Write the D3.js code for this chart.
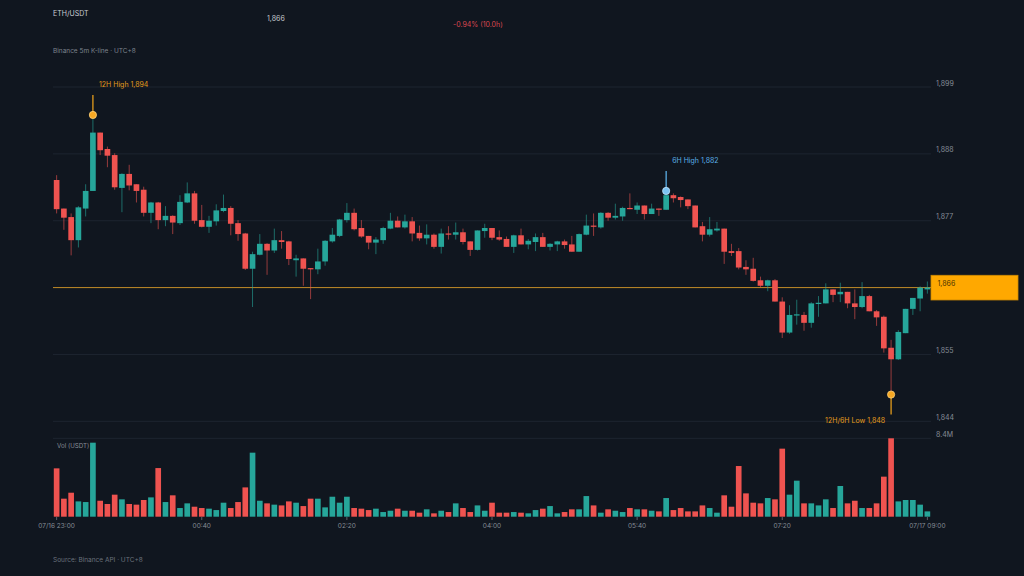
<!DOCTYPE html>
<html>
<head>
<meta charset="utf-8">
<script src="https://cdn.jsdelivr.net/npm/d3@7"></script>
<style>
  html, body { margin: 0; padding: 0; background: #10161f; }
  svg { display: block; font-family: Inter, "Noto Sans", sans-serif; }
</style>
</head>
<body>
<svg id="chart" width="1024" height="576"></svg>
<script>
// 5m candles, 07/16 23:00 -> 07/17 09:00 (121 bars)
const openPrices = [
  1883.7,1879.0,1877.6,1873.8,1879.0,1881.9,1891.5,1888.8,1887.8,1882.4,
  1884.7,1883.0,1882.1,1878.3,1880.0,1877.1,1877.8,1876.6,1880.0,1881.5,
  1877.1,1876.0,1876.9,1878.6,1879.1,1876.6,1874.9,1869.1,1871.4,1873.2,
  1872.1,1873.8,1873.6,1870.5,1870.8,1869.2,1869.0,1870.3,1873.6,1874.5,
  1877.1,1878.3,1875.8,1874.5,1873.4,1873.8,1875.7,1877.0,1875.9,1876.9,
  1875.0,1874.1,1874.7,1872.7,1874.9,1874.7,1875.1,1873.6,1872.2,1875.3,
  1875.8,1874.3,1874.0,1872.7,1874.6,1873.1,1873.5,1874.3,1872.7,1873.1,
  1873.6,1873.1,1871.9,1874.7,1876.2,1875.9,1878.3,1877.5,1877.7,1879.1,
  1878.8,1879.5,1878.1,1879.0,1878.8,1881.2,1880.9,1880.5,1879.5,1876.1,
  1874.7,1875.4,1875.7,1872.0,1872.0,1869.4,1869.1,1867.2,1866.3,1867.2,
  1863.7,1858.6,1861.4,1861.5,1860.2,1863.3,1863.4,1865.7,1864.9,1865.3,
  1863.4,1862.8,1864.6,1862.1,1861.2,1856.1,1854.2,1858.5,1862.5,1864.2,
  1865.7
]
const highPrices = [
  1884.5,1879.0,1878.2,1879.4,1883.0,1894.4,1891.5,1889.2,1888.1,1884.8,
  1886.2,1883.0,1882.6,1880.1,1880.1,1879.4,1877.9,1881.2,1883.3,1881.9,
  1879.6,1877.8,1879.7,1881.3,1879.4,1877.1,1875.0,1871.9,1874.8,1873.3,
  1875.7,1875.3,1873.7,1871.4,1870.8,1869.2,1872.4,1873.8,1875.8,1877.3,
  1879.9,1879.0,1877.1,1874.5,1874.3,1876.0,1878.3,1877.7,1878.0,1877.6,
  1876.2,1876.4,1874.9,1875.7,1876.1,1876.7,1875.7,1873.6,1875.4,1876.5,
  1875.8,1875.4,1874.4,1874.7,1875.7,1874.0,1874.9,1875.0,1873.3,1873.7,
  1873.9,1874.5,1874.9,1878.0,1878.2,1878.4,1878.4,1879.8,1879.3,1881.5,
  1880.0,1879.5,1879.8,1879.0,1881.9,1881.5,1881.0,1880.5,1879.5,1876.8,
  1877.6,1876.8,1875.7,1873.2,1872.5,1870.5,1870.9,1867.8,1867.3,1867.4,
  1864.4,1863.1,1864.0,1862.0,1863.6,1864.6,1866.7,1865.7,1866.8,1865.3,
  1865.7,1866.9,1864.8,1862.3,1861.4,1857.4,1859.0,1862.5,1864.3,1866.2,
  1867.0
]
const lowPrices = [
  1878.2,1875.5,1871.3,1872.6,1877.7,1881.9,1887.8,1885.8,1882.1,1878.4,
  1882.0,1880.0,1877.7,1876.6,1875.6,1876.1,1874.8,1876.3,1879.9,1876.5,
  1875.9,1875.0,1876.2,1878.4,1874.6,1873.7,1868.9,1862.8,1871.3,1868.1,
  1871.7,1872.4,1869.7,1867.8,1866.3,1864.1,1868.2,1869.6,1873.4,1874.3,
  1876.7,1875.4,1874.2,1872.3,1871.5,1873.2,1875.6,1875.9,1875.7,1873.6,
  1873.7,1873.1,1872.4,1871.6,1873.9,1873.9,1873.1,1871.2,1872.1,1874.2,
  1873.8,1873.7,1872.7,1871.7,1873.1,1872.3,1872.0,1872.7,1872.1,1872.0,
  1872.4,1871.9,1871.9,1874.6,1874.5,1875.7,1877.0,1877.2,1877.0,1878.9,
  1878.1,1877.2,1878.1,1877.8,1878.8,1880.0,1879.2,1878.9,1875.9,1873.6,
  1874.4,1875.2,1869.9,1871.2,1869.0,1868.1,1867.0,1866.0,1865.4,1863.7,
  1857.7,1858.4,1859.9,1858.9,1859.4,1861.2,1863.4,1863.6,1863.6,1862.6,
  1860.8,1862.6,1862.1,1859.7,1855.3,1848.4,1854.1,1858.5,1861.5,1862.1,
  1865.0
]
const closePrices = [
  1878.9,1877.5,1873.8,1879.2,1881.9,1891.5,1888.6,1887.7,1882.5,1884.7,
  1882.8,1881.9,1878.3,1880.0,1877.1,1877.8,1876.7,1880.1,1881.5,1877.0,
  1876.0,1877.0,1878.7,1879.1,1876.5,1874.8,1869.1,1871.5,1873.2,1872.1,
  1873.8,1873.5,1870.7,1870.8,1869.1,1869.0,1870.3,1873.7,1874.7,1877.2,
  1878.3,1875.6,1874.4,1873.4,1873.9,1875.8,1877.0,1875.9,1876.9,1874.9,
  1874.1,1874.7,1872.7,1874.9,1874.7,1875.1,1873.5,1872.2,1875.4,1875.8,
  1874.2,1873.9,1872.7,1874.6,1873.1,1873.7,1874.3,1872.7,1873.2,1873.6,
  1873.0,1871.9,1874.8,1876.2,1876.0,1878.3,1877.5,1877.8,1879.1,1878.9,
  1879.5,1878.1,1879.0,1878.8,1881.2,1880.7,1880.4,1879.4,1875.9,1874.7,
  1875.6,1875.7,1871.9,1871.7,1869.3,1869.0,1867.1,1866.3,1867.2,1863.7,
  1858.6,1861.5,1861.6,1860.2,1863.4,1863.5,1865.7,1864.8,1865.3,1863.4,
  1862.8,1864.6,1862.1,1861.1,1856.0,1854.2,1858.7,1862.5,1864.3,1866.0,
  1866.0
]
// volume in millions USDT
const volumes = [
  5.18,1.93,2.57,1.64,1.57,7.93,1.71,1.36,2.36,1.86,
  1.36,1.29,1.79,2.07,5.21,1.57,2.29,0.93,1.43,1.07,
  0.93,0.86,0.71,1.50,0.93,1.57,3.14,6.86,1.71,1.43,
  1.29,1.21,1.64,1.50,1.14,1.93,1.93,1.00,2.14,1.50,
  2.14,0.93,0.86,0.71,0.86,0.50,0.64,0.86,0.64,0.64,
  0.43,0.79,0.36,0.64,0.50,1.43,0.93,0.50,1.21,0.64,
  1.50,0.43,0.43,0.50,0.43,0.36,0.71,0.86,1.14,0.36,
  0.50,0.79,0.79,2.21,1.21,0.43,0.79,0.64,0.50,0.93,
  0.79,0.79,0.64,0.57,2.00,0.71,0.93,0.57,0.57,1.21,
  0.93,0.43,2.29,1.07,5.43,2.50,1.50,1.43,2.00,1.86,
  7.29,2.36,3.86,1.43,1.43,1.21,1.86,0.93,3.29,1.43,
  1.71,0.93,0.93,1.43,4.29,8.40,1.64,1.79,1.79,1.29,
  0.57
]
const priceTicks = [1844, 1855, 1866, 1877, 1888, 1899]
const timeTickIndex = [0, 20, 40, 60, 80, 100, 120]
const timeTickLabels = ['07/16 23:00', '00:40', '02:20', '04:00', '05:40', '07:20', '07/17 09:00']
const volMax = 8.4

const UP = '#26a69a'
const DOWN = '#ef5350'
const GRID = '#1d2530'
const MUTED = '#858c96'

const svg = d3.select('#chart')
const left = 53, right = 931

const candles = openPrices.map((o, i) => ({
  i: i, o: o, h: highPrices[i], l: lowPrices[i], c: closePrices[i], v: volumes[i]
}))

const x = d3.scaleBand().domain(d3.range(candles.length)).range([left, right]).paddingInner(0.22).paddingOuter(0.11)
const cx = (i) => x(i) + x.bandwidth() / 2
const y = d3.scaleLinear().domain([1844, 1899]).range([421.3, 87])
const yVol = d3.scaleLinear().domain([0, volMax]).range([516.7, 438.3])
const fmt = d3.format(',.0f')

// grid + right labels
svg.append('g').selectAll('line').data(priceTicks).enter().append('line')
  .attr('x1', left).attr('x2', right)
  .attr('y1', d => y(d)).attr('y2', d => y(d))
  .attr('stroke', GRID).attr('stroke-width', 1)
svg.append('g').selectAll('text').data(priceTicks).enter().append('text')
  .attr('x', 936).attr('y', d => y(d) - 1.5)
  .attr('fill', MUTED).attr('font-size', 7)
  .text(d => fmt(d))

svg.append('line').attr('x1', left).attr('x2', right)
  .attr('y1', yVol(volMax)).attr('y2', yVol(volMax))
  .attr('stroke', GRID)
svg.append('text').attr('x', 936).attr('y', yVol(volMax) - 1.8)
  .attr('fill', MUTED).attr('font-size', 7).text(volMax + 'M')

// current price line
const last = candles[candles.length - 1]
svg.append('line').attr('x1', left).attr('x2', right)
  .attr('y1', y(last.c)).attr('y2', y(last.c))
  .attr('stroke', '#c08a26').attr('stroke-width', 1)

// volume bars
svg.append('g').selectAll('rect').data(candles).enter().append('rect')
  .attr('x', d => x(d.i)).attr('width', x.bandwidth())
  .attr('y', d => yVol(d.v)).attr('height', d => yVol(0) - yVol(d.v))
  .attr('fill', d => d.c >= d.o ? UP : DOWN)

svg.append('text').attr('x', 57).attr('y', 447.5)
  .attr('fill', MUTED).attr('font-size', 6.2).text('Vol (USDT)')

// candles
const cg = svg.append('g').selectAll('g').data(candles).enter().append('g')
cg.append('line')
  .attr('x1', d => cx(d.i)).attr('x2', d => cx(d.i))
  .attr('y1', d => y(d.h)).attr('y2', d => y(d.l))
  .attr('stroke', d => d.c >= d.o ? UP : DOWN)
  .attr('stroke-opacity', 0.6).attr('stroke-width', 1)
cg.append('rect')
  .attr('x', d => x(d.i)).attr('width', x.bandwidth())
  .attr('y', d => y(Math.max(d.o, d.c)))
  .attr('height', d => Math.max(1, Math.abs(y(d.o) - y(d.c))))
  .attr('fill', d => d.c >= d.o ? UP : DOWN)

// high / low markers
const hi12 = d3.maxIndex(candles, d => d.h)
const lo12 = d3.minIndex(candles, d => d.l)
const recent = candles.slice(candles.length - 72)
const hi6 = candles.length - 72 + d3.maxIndex(recent, d => d.h)

const marker = (idx, val, dir, color, dotFill, ring, label, anchor) => {
  const px = cx(idx), py = y(val)
  const end = py + dir * 20
  svg.append('line').attr('x1', px).attr('x2', px).attr('y1', py).attr('y2', end)
    .attr('stroke', color).attr('stroke-width', 1.3)
  svg.append('circle').attr('cx', px).attr('cy', py).attr('r', 3.6)
    .attr('fill', dotFill).attr('stroke', ring).attr('stroke-width', 0.8)
  svg.append('text')
    .attr('x', anchor === 'end' ? px - 6 : px + 6)
    .attr('y', dir < 0 ? end - 7.5 : end + 8.5)
    .attr('text-anchor', anchor)
    .attr('fill', color).attr('font-size', 7).text(label)
}
marker(hi12, candles[hi12].h, -1, '#e39c1c', '#f7a823', '#ffd27a', '12H High ' + fmt(candles[hi12].h), 'start')
marker(hi6, candles[hi6].h, -1, '#5aaee6', '#7cc3f2', '#c2e4fb', '6H High ' + fmt(candles[hi6].h), 'start')
marker(lo12, candles[lo12].l, 1, '#e39c1c', '#f7a823', '#ffd27a', '12H/6H Low ' + fmt(candles[lo12].l), 'end')

// price tag
svg.append('rect').attr('x', 931).attr('y', y(last.c) - 12.3).attr('width', 87).attr('height', 24.7)
  .attr('fill', '#ffa800').attr('stroke', '#cf8a00').attr('stroke-width', 0.8)
svg.append('text').attr('x', 937.5).attr('y', y(last.c) - 1.8)
  .attr('fill', '#4a3400').attr('font-size', 7).text(fmt(last.c))

// time axis ticks
svg.append('g').selectAll('line').data(timeTickIndex).enter().append('line')
  .attr('x1', d => cx(d)).attr('x2', d => cx(d))
  .attr('y1', 517).attr('y2', 520)
  .attr('stroke', '#5b626c')
svg.append('g').selectAll('text').data(timeTickIndex).enter().append('text')
  .attr('x', d => cx(d)).attr('y', 527.5)
  .attr('text-anchor', 'middle')
  .attr('fill', MUTED).attr('font-size', 6.5)
  .text((d, k) => timeTickLabels[k])

// header
const change = (last.c - candles[0].o) / candles[0].o * 100
svg.append('text').attr('x', 53).attr('y', 16).attr('fill', '#c9cdd4').attr('font-size', 7).text('ETH/USDT')
svg.append('text').attr('x', 267).attr('y', 21.3).attr('fill', '#c4c7cc').attr('font-size', 7).text(fmt(last.c))
svg.append('text').attr('x', 453).attr('y', 26.5).attr('fill', '#d9474f').attr('font-size', 7)
  .text(change.toFixed(2) + '% (10.0h)')
svg.append('text').attr('x', 53).attr('y', 53.3).attr('fill', '#7d848e').attr('font-size', 6.5)
  .text('Binance 5m K-line · UTC+8')
svg.append('text').attr('x', 53).attr('y', 561.5).attr('fill', '#6b727c').attr('font-size', 6.5)
  .text('Source: Binance API · UTC+8')
</script>
</body>
</html>
